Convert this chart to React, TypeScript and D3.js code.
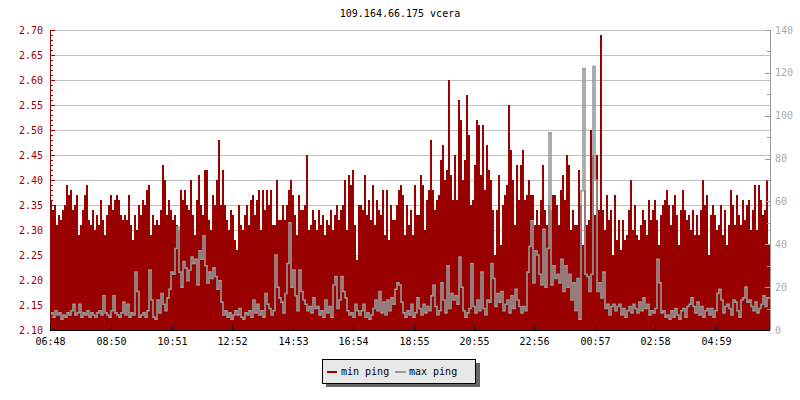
import React from 'react';
import * as d3 from 'd3';

const title = "109.164.66.175 vcera";

// min ping (left axis, ms), one sample every 4 minutes from 06:48
const minPing: number[] = [
  // 06:48 - 08:30
  2.36, 2.34, 2.35, 2.31, 2.33, 2.32, 2.34, 2.35, 2.39, 2.37,
  2.38, 2.34, 2.35, 2.37, 2.29, 2.31, 2.34, 2.37, 2.39, 2.32,
  2.31, 2.34, 2.30, 2.33, 2.31, 2.36, 2.32, 2.29, 2.33, 2.35,
  2.37, 2.34, 2.36, 2.37, 2.36, 2.33, 2.32, 2.33, 2.32, 2.37,
  2.31, 2.28, 2.33, 2.30, 2.35, 2.33, 2.36, 2.35, 2.38, 2.39,
  2.29, 2.33,
  // 10:16 -
  2.31, 2.32, 2.31, 2.34, 2.43, 2.40, 2.33, 2.36, 2.34, 2.32,
  2.33, 2.31, 2.30, 2.38, 2.36, 2.38, 2.35, 2.34, 2.40, 2.33,
  2.29, 2.36, 2.41, 2.35, 2.33, 2.42, 2.42, 2.32, 2.30, 2.37,
  2.35, 2.40, 2.48, 2.35, 2.42, 2.35, 2.32, 2.30, 2.34, 2.33,
  2.28, 2.26, 2.35, 2.31, 2.30, 2.33, 2.35, 2.31, 2.36, 2.37,
  2.33,
  2.36, 2.38, 2.30, 2.38, 2.34, 2.38, 2.35, 2.38, 2.31, 2.31,
  2.40, 2.32, 2.32, 2.35, 2.32, 2.35, 2.38, 2.40, 2.37, 2.33,
  2.29, 2.37, 2.34, 2.34, 2.35, 2.45, 2.30, 2.31, 2.34, 2.32,
  2.30, 2.34, 2.31, 2.33, 2.29, 2.32, 2.31, 2.34, 2.30, 2.33,
  2.35, 2.32, 2.34, 2.35, 2.40, 2.30, 2.41, 2.39, 2.42, 2.31,
  2.24, 2.35,
  2.35, 2.34, 2.41, 2.33, 2.36, 2.32, 2.39, 2.31, 2.36, 2.34,
  2.33, 2.38, 2.29, 2.38, 2.28, 2.35, 2.32, 2.32, 2.35, 2.38,
  2.39, 2.37, 2.29, 2.35, 2.31, 2.34, 2.29, 2.39, 2.33, 2.33,
  2.41, 2.39, 2.30, 2.36, 2.38, 2.48, 2.38, 2.34, 2.36, 2.37,
  2.44, 2.47, 2.40, 2.42, 2.60, 2.41, 2.36, 2.45, 2.36, 2.56,
  2.52,
  2.40, 2.44, 2.57, 2.49, 2.35, 2.36, 2.43, 2.52, 2.51, 2.41,
  2.51, 2.38, 2.47, 2.42, 2.40, 2.34, 2.25, 2.34, 2.41, 2.27,
  2.35, 2.37, 2.39, 2.55, 2.46, 2.40, 2.31, 2.43, 2.36, 2.43,
  2.46, 2.36, 2.37, 2.40, 2.37, 2.37, 2.31, 2.34, 2.31, 2.36,
  2.43, 2.34, 2.31, 2.35, 2.34, 2.37, 2.37, 2.35, 2.31, 2.38,
  2.41, 2.36,
  2.45, 2.43, 2.30, 2.34, 2.31, 2.31, 2.42, 2.35, 2.27, 2.38,
  2.31, 2.32, 2.50, 2.45, 2.33, 2.45, 2.34, 2.69, 2.34, 2.30,
  2.37, 2.32, 2.34, 2.25, 2.37, 2.28, 2.32, 2.26, 2.32, 2.28,
  2.29, 2.34, 2.40, 2.30, 2.35, 2.29, 2.28, 2.31, 2.34, 2.32,
  2.29, 2.36, 2.32, 2.34, 2.36, 2.32, 2.27, 2.33, 2.35, 2.36,
  2.38,
  2.35, 2.31, 2.35, 2.37, 2.33, 2.27, 2.34, 2.38, 2.34, 2.32,
  2.33, 2.30, 2.34, 2.29, 2.33, 2.29, 2.34, 2.40, 2.35, 2.37,
  2.25, 2.33, 2.35, 2.33, 2.30, 2.31, 2.35, 2.29, 2.34, 2.27,
  2.31, 2.38, 2.35, 2.31, 2.37, 2.33, 2.31, 2.36, 2.32, 2.35,
  2.36, 2.30, 2.34, 2.39, 2.30, 2.39, 2.36, 2.33, 2.34, 2.40,
  2.27,
];

// max ping (right axis, ms), same sampling
const maxPing: number[] = [
  7, 8, 6, 9, 7, 8, 5, 7, 6, 8,
  7, 9, 12, 7, 8, 12, 6, 8, 7, 9,
  6, 8, 7, 6, 8, 9, 7, 16, 8, 7,
  6, 9, 16, 8, 7, 6, 8, 13, 7, 12,
  6, 8, 7, 27, 18, 6, 7, 8, 6, 9,
  28, 14,
  6, 5, 14, 8, 17, 12, 9, 15, 19, 27,
  26, 38, 48, 27, 20, 32, 29, 23, 28, 34,
  31, 33, 21, 37, 33, 44, 30, 22, 27, 24,
  29, 25, 19, 23, 13, 7, 9, 6, 8, 5,
  7, 9, 7, 10, 6, 5, 8, 7, 9, 6,
  14,
  8, 12, 7, 9, 6, 17, 12, 10, 7, 9,
  35, 20, 15, 13, 8, 17, 31, 50, 20, 28,
  16, 9, 28, 18, 14, 12, 9, 11, 8, 15,
  10, 11, 7, 9, 6, 14, 8, 11, 6, 21,
  25, 10, 14, 25, 18, 15, 9, 7, 8, 6,
  12, 9,
  7, 9, 12, 6, 8, 5, 7, 10, 14, 9,
  18, 8, 13, 7, 14, 9, 15, 12, 19, 22,
  21, 13, 8, 6, 9, 7, 12, 6, 8, 15,
  10, 7, 12, 8, 11, 9, 16, 21, 11, 7,
  9, 22, 14, 8, 30, 10, 17, 14, 16, 12,
  34,
  20, 9, 6, 8, 10, 31, 11, 8, 14, 9,
  27, 10, 7, 14, 13, 31, 24, 11, 17, 13,
  18, 9, 12, 14, 8, 16, 10, 19, 14, 11,
  8, 11, 9, 27, 39, 51, 22, 37, 35, 26,
  21, 47, 20, 38, 92, 21, 30, 24, 26, 22,
  33, 18,
  30, 20, 26, 14, 22, 9, 24, 5, 65, 122,
  26, 25, 18, 26, 123, 70, 18, 22, 15, 27,
  10, 12, 7, 11, 12, 9, 11, 12, 7, 10,
  6, 9, 11, 8, 12, 10, 8, 13, 9, 15,
  10, 12, 7, 9, 8, 10, 33, 22, 8, 9,
  6,
  7, 5, 9, 6, 10, 7, 5, 9, 10, 6,
  11, 12, 15, 11, 8, 13, 7, 11, 6, 9,
  10, 7, 10, 6, 9, 17, 19, 14, 8, 11,
  12, 10, 7, 14, 13, 9, 6, 14, 15, 20,
  13, 14, 11, 9, 13, 8, 10, 12, 16, 11,
  15,
];

const xTickLabels = ["06:48", "08:50", "10:51", "12:52", "14:53", "16:54", "18:55", "20:55", "22:56", "00:57", "02:58", "04:59"];
const legendLabels = ["min ping", "max ping"];

const W = 800;
const H = 400;
const left = 50;
const right = 770;
const top = 30;
const bottom = 330;
const font = "'DejaVu Sans Mono', monospace";
const red = "#990000";
const grey = "#999999";

const start = new Date(2024, 0, 1, 6, 48);
const end = new Date(start.getTime() + 24 * 3600 * 1000);
const step = (end.getTime() - start.getTime()) / minPing.length;
const tAt = (i: number) => new Date(start.getTime() + i * step);

const parseLabel = (s: string) => {
  const [h, m] = s.split(":").map(Number);
  const d = new Date(2024, 0, 1, h, m);
  if (d < start) d.setDate(d.getDate() + 1);
  return d;
};

export default function App() {
  const x = d3.scaleTime().domain([start, end]).range([left, right]);
  const yL = d3.scaleLinear().domain([2.1, 2.7]).range([bottom, top]);
  const yR = d3.scaleLinear().domain([0, 140]).range([bottom, top]);

  const minPts = minPing.map((v, i) => ({ t: tAt(i), v }));
  minPts.push({ t: end, v: minPing[minPing.length - 1] });
  const maxPts = maxPing.map((v, i) => ({ t: tAt(i), v }));
  maxPts.push({ t: end, v: maxPing[maxPing.length - 1] });

  const area = d3.area<{ t: Date; v: number }>()
    .x(d => x(d.t))
    .y0(bottom)
    .y1(d => yL(d.v))
    .curve(d3.curveStepAfter);

  // grey max ping line, stepped like the sampled original
  const line = d3.line<{ t: Date; v: number }>()
    .x(d => x(d.t))
    .y(d => yR(d.v))
    .curve(d3.curveStep);

  const leftMajor = yL.ticks(12);
  const leftMinor = yL.ticks(60);
  const rightMajor = yR.ticks(7);
  const rightMinor = yR.ticks(14);
  const fmt = d3.format(".2f");

  return (
    <svg width={W} height={H} style={{ position: 'absolute', left: 0, top: 0, background: '#fff' }}
      fontFamily={font} fontSize={10}>
      <rect x={0} y={0} width={W} height={H} fill="#fff" />
      <text x={W / 2} y={17} textAnchor="middle" fill="#000">{title}</text>

      {/* grid */}
      {leftMajor.filter(v => v > 2.1 + 1e-9).map(v => (
        <line key={"g" + v} x1={left} x2={right} y1={Math.round(yL(v)) + 0.5} y2={Math.round(yL(v)) + 0.5}
          stroke="#c0c0c0" strokeWidth={1} />
      ))}

      {/* series */}
      <path d={area(minPts) || ""} fill={red} shapeRendering="crispEdges" />
      <path d={line(maxPts) || ""} fill="none" stroke={grey} strokeWidth={1.6} strokeLinejoin="miter" />

      {/* left axis */}
      <line x1={left + 0.5} x2={left + 0.5} y1={top} y2={bottom} stroke={red} />
      {leftMinor.map(v => (
        <line key={"lm" + v} x1={left} x2={left + 3} y1={Math.round(yL(v)) + 0.5} y2={Math.round(yL(v)) + 0.5} stroke={red} />
      ))}
      {leftMajor.map(v => (
        <g key={"lt" + v}>
          <line x1={left} x2={left + 5} y1={Math.round(yL(v)) + 0.5} y2={Math.round(yL(v)) + 0.5} stroke={red} />
          <text x={left - 7} y={yL(v)} dy="0.35em" textAnchor="end" fill={red}>{fmt(v)}</text>
        </g>
      ))}

      {/* right axis */}
      <line x1={right + 0.5} x2={right + 0.5} y1={top} y2={bottom} stroke={grey} />
      {rightMinor.map(v => (
        <line key={"rm" + v} x1={right - 3} x2={right} y1={Math.round(yR(v)) + 0.5} y2={Math.round(yR(v)) + 0.5} stroke={grey} />
      ))}
      {rightMajor.map(v => (
        <g key={"rt" + v}>
          <line x1={right - 5} x2={right} y1={Math.round(yR(v)) + 0.5} y2={Math.round(yR(v)) + 0.5} stroke={grey} />
          <text x={right + 5} y={yR(v)} dy="0.35em" textAnchor="start" fill="#aaaaaa">{v}</text>
        </g>
      ))}

      {/* x axis */}
      <line x1={left} x2={right} y1={bottom + 0.5} y2={bottom + 0.5} stroke="#000" />
      {xTickLabels.map(s => {
        const px = Math.round(x(parseLabel(s))) + 0.5;
        return (
          <g key={"x" + s}>
            <line x1={px} x2={px} y1={bottom - 5} y2={bottom} stroke="#000" />
            <text x={px} y={345} textAnchor="middle" fill="#000">{s}</text>
          </g>
        );
      })}

      {/* legend */}
      <rect x={326} y={363} width={154} height={24} fill="#666" />
      <rect x={322.5} y={359.5} width={153} height={24} fill="#e8e8e8" stroke="#000" />
      <line x1={327} x2={337} y1={372} y2={372} stroke={red} strokeWidth={2} />
      <text x={341} y={375} fill="#000">{legendLabels[0]}</text>
      <line x1={395} x2={406} y1={372} y2={372} stroke={grey} strokeWidth={2} />
      <text x={409} y={375} fill="#000">{legendLabels[1]}</text>
    </svg>
  );
}
